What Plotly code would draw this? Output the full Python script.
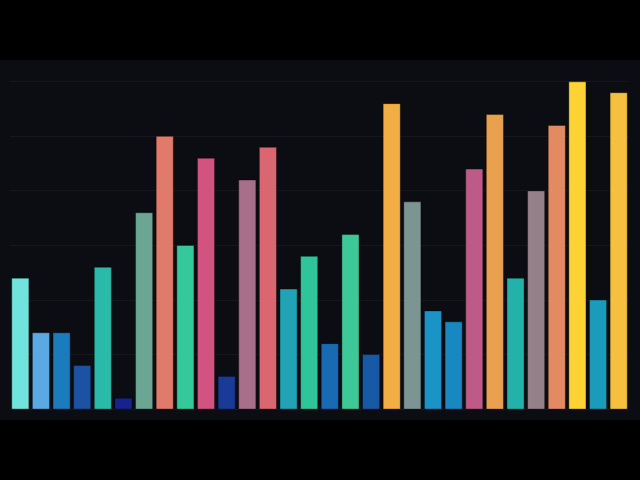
import plotly.graph_objects as go

# bar values (gridline every 5 units)
categories = [f"b{i}" for i in range(1, 31)]
values = [12, 7, 7, 4, 13, 1, 18, 25, 15, 23,
          3, 21, 24, 11, 14, 6, 16, 5, 28, 19,
          9, 8, 22, 27, 12, 20, 26, 30, 10, 29]
colors = ["#6fe3dc", "#5aa9e3", "#1a7bbd", "#1b52a3", "#2bb9aa",
          "#17238a", "#6ba594", "#e07a6a", "#34c99a", "#d2537f",
          "#1a3a97", "#a86f8a", "#d96670", "#21a3b6", "#2fc59b",
          "#196ab2", "#3ec898", "#1859a6", "#f2ad45", "#7c9592",
          "#1a93c6", "#1888c2", "#bd5a88", "#e9a14f", "#22b2a9",
          "#938089", "#e48a62", "#fdd235", "#1a9bb9", "#f5c03e"]

BG = "#0b0d12"

fig = go.Figure(
    go.Bar(
        x=categories,
        y=values,
        marker_color=colors,
        marker_line_color="rgba(0,0,0,0.35)",
        marker_line_width=1,
        hoverinfo="x+y",
    )
)

fig.update_layout(
    width=640,
    height=480,
    paper_bgcolor=BG,
    plot_bgcolor=BG,
    bargap=0.17,
    showlegend=False,
    margin=dict(t=60, b=60, l=10, r=11, pad=0),
    # letterbox bands top and bottom
    shapes=[
        dict(type="rect", xref="paper", yref="paper", x0=-0.1, x1=1.1,
             y0=1, y1=1.3, fillcolor="black", line_width=0, layer="below"),
        dict(type="rect", xref="paper", yref="paper", x0=-0.1, x1=1.1,
             y0=-0.3, y1=0, fillcolor="black", line_width=0, layer="below"),
    ],
)
fig.update_xaxes(showticklabels=False, showgrid=False, zeroline=False,
                 showline=False, ticks="")
fig.update_yaxes(range=[-1, 32], dtick=5, showticklabels=False,
                 gridcolor="rgba(255,255,255,0.045)", gridwidth=1,
                 zeroline=False, showline=False, ticks="")

# drop the default page margin so the figure sits flush in the window
fig.write_html(
    "out.html",
    config={"displayModeBar": False},
    post_script="document.body.style.margin='0';"
                "document.body.style.background='black';"
                "document.body.style.overflow='hidden';",
)
